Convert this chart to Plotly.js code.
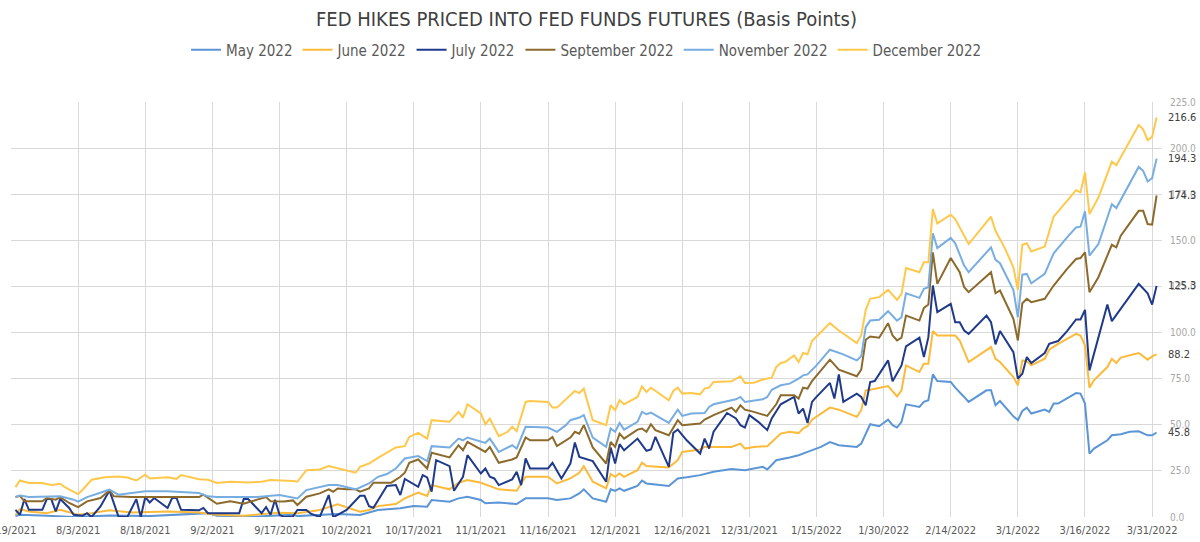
<!DOCTYPE html>
<html>
<head>
<meta charset="utf-8">
<script src="https://cdn.plot.ly/plotly-3.0.1.min.js"></script>
<style>
  html, body { margin: 0; padding: 0; background: #ffffff; }
  #chart { width: 1200px; height: 542px; }
</style>
</head>
<body>
<div id="chart"></div>
<script>
// Hikes priced into fed funds futures, in basis points, by contract month.

const may2022Dates = ['2021-07-20','2021-07-21','2021-07-27','2021-08-02','2021-08-10','2021-08-19','2021-09-01','2021-09-03','2021-09-12','2021-09-20','2021-09-21','2021-09-30','2021-10-05','2021-10-09','2021-10-14','2021-10-17','2021-10-20','2021-10-21','2021-10-25','2021-10-27','2021-10-29','2021-11-01','2021-11-02','2021-11-05','2021-11-09','2021-11-11','2021-11-16','2021-11-18','2021-11-21','2021-11-23','2021-11-24','2021-11-26','2021-11-29','2021-11-30','2021-12-01','2021-12-02','2021-12-03','2021-12-06','2021-12-07','2021-12-08','2021-12-13','2021-12-15','2021-12-17','2021-12-20','2021-12-23','2021-12-27','2021-12-30','2022-01-03','2022-01-04','2022-01-06','2022-01-09','2022-01-11','2022-01-13','2022-01-16','2022-01-18','2022-01-20','2022-01-24','2022-01-25','2022-01-27','2022-01-29','2022-01-31','2022-02-01','2022-02-02','2022-02-03','2022-02-04','2022-02-07','2022-02-08','2022-02-09','2022-02-10','2022-02-11','2022-02-14','2022-02-15','2022-02-17','2022-02-18','2022-02-22','2022-02-23','2022-02-24','2022-02-25','2022-02-28','2022-03-01','2022-03-02','2022-03-03','2022-03-04','2022-03-07','2022-03-08','2022-03-09','2022-03-10','2022-03-12','2022-03-14','2022-03-15','2022-03-16','2022-03-17','2022-03-18','2022-03-21','2022-03-22','2022-03-24','2022-03-26','2022-03-28','2022-03-30','2022-03-31','2022-04-01'];
const may2022Values = [0.5,1.2,0.7,0.0,0.8,0.5,2.1,0.7,0.3,1.2,0.5,1.6,1.1,3.8,4.7,5.9,5.6,9.2,8.3,10.1,11.0,9.2,7.4,7.8,7.0,10.1,10.1,9.2,10.1,12.8,15.0,10.1,8.3,15.0,14.2,15.5,14.2,16.8,19.7,18.2,16.8,20.9,21.5,22.7,24.5,26.0,25.4,27.2,25.8,30.8,32.3,33.5,35.3,38.0,40.6,38.9,38.0,39.8,50.3,49.2,52.8,49.8,48.5,51.6,61.1,59.7,62.4,63.3,77.3,73.7,73.2,70.1,65.1,62.4,68.7,68.7,60.6,62.9,54.6,52.5,57.5,59.3,56.1,58.2,57.0,61.5,61.5,64.2,67.2,66.9,61.5,34.4,37.1,41.6,44.3,44.9,46.2,46.5,44.3,44.3,45.8];

const june2022Dates = ['2021-07-20','2021-07-21','2021-07-23','2021-07-27','2021-07-30','2021-08-03','2021-08-06','2021-08-10','2021-08-15','2021-08-23','2021-08-30','2021-09-03','2021-09-09','2021-09-17','2021-09-21','2021-09-26','2021-09-30','2021-10-05','2021-10-07','2021-10-09','2021-10-13','2021-10-15','2021-10-18','2021-10-20','2021-10-21','2021-10-25','2021-10-27','2021-10-29','2021-11-01','2021-11-02','2021-11-05','2021-11-09','2021-11-11','2021-11-16','2021-11-18','2021-11-21','2021-11-23','2021-11-24','2021-11-26','2021-11-29','2021-11-30','2021-12-01','2021-12-02','2021-12-03','2021-12-06','2021-12-07','2021-12-08','2021-12-13','2021-12-15','2021-12-16','2021-12-20','2021-12-21','2021-12-27','2021-12-29','2021-12-30','2022-01-01','2022-01-04','2022-01-07','2022-01-09','2022-01-11','2022-01-12','2022-01-13','2022-01-14','2022-01-18','2022-01-20','2022-01-24','2022-01-25','2022-01-26','2022-01-27','2022-01-31','2022-02-02','2022-02-03','2022-02-04','2022-02-07','2022-02-08','2022-02-09','2022-02-10','2022-02-11','2022-02-15','2022-02-16','2022-02-17','2022-02-18','2022-02-23','2022-02-24','2022-02-25','2022-02-28','2022-03-01','2022-03-02','2022-03-03','2022-03-04','2022-03-07','2022-03-08','2022-03-10','2022-03-14','2022-03-15','2022-03-16','2022-03-17','2022-03-18','2022-03-21','2022-03-22','2022-03-23','2022-03-24','2022-03-28','2022-03-30','2022-03-31','2022-04-01'];
const june2022Values = [1.2,4.3,3.0,2.1,3.9,1.2,2.1,3.6,2.5,3.0,2.5,1.2,0.7,2.3,2.0,3.8,6.9,2.9,3.8,5.9,7.0,10.1,13.2,11.4,17.3,15.0,18.6,20.0,18.6,17.8,15.0,14.2,21.8,21.8,18.2,20.9,24.0,27.6,19.1,15.5,23.3,21.8,23.6,21.8,25.4,29.4,27.6,26.9,30.8,35.3,36.6,38.0,38.0,39.8,37.1,38.0,38.4,45.2,46.2,45.5,48.0,49.2,52.8,59.3,58.2,54.3,57.9,68.7,69.0,71.0,65.4,68.7,82.2,78.6,83.1,83.1,100.8,98.4,98.4,95.7,90.0,84.0,92.1,85.8,84.0,75.9,71.4,84.9,84.5,82.2,85.8,90.7,93.9,99.3,98.4,93.0,70.1,74.1,81.3,85.8,83.5,86.4,88.9,85.3,87.1,88.2];

const july2022Dates = ['2021-07-20','2021-07-21','2021-07-22','2021-07-23','2021-07-26','2021-07-27','2021-07-28','2021-07-29','2021-07-30','2021-08-01','2021-08-02','2021-08-04','2021-08-05','2021-08-06','2021-08-08','2021-08-10','2021-08-12','2021-08-14','2021-08-16','2021-08-17','2021-08-18','2021-08-19','2021-08-20','2021-08-23','2021-08-24','2021-08-25','2021-08-26','2021-08-30','2021-08-31','2021-09-01','2021-09-06','2021-09-08','2021-09-09','2021-09-10','2021-09-13','2021-09-14','2021-09-15','2021-09-16','2021-09-17','2021-09-18','2021-09-20','2021-09-21','2021-09-23','2021-09-24','2021-09-26','2021-09-28','2021-09-29','2021-09-30','2021-10-02','2021-10-05','2021-10-06','2021-10-07','2021-10-08','2021-10-09','2021-10-11','2021-10-13','2021-10-14','2021-10-15','2021-10-17','2021-10-18','2021-10-19','2021-10-20','2021-10-21','2021-10-22','2021-10-25','2021-10-26','2021-10-28','2021-10-29','2021-11-01','2021-11-02','2021-11-03','2021-11-04','2021-11-05','2021-11-08','2021-11-09','2021-11-10','2021-11-11','2021-11-12','2021-11-16','2021-11-17','2021-11-19','2021-11-21','2021-11-22','2021-11-23','2021-11-26','2021-11-29','2021-11-30','2021-12-01','2021-12-02','2021-12-03','2021-12-06','2021-12-08','2021-12-09','2021-12-10','2021-12-13','2021-12-14','2021-12-15','2021-12-17','2021-12-20','2021-12-21','2021-12-22','2021-12-23','2021-12-26','2021-12-28','2021-12-29','2021-12-30','2021-12-31','2022-01-02','2022-01-04','2022-01-05','2022-01-07','2022-01-09','2022-01-10','2022-01-11','2022-01-12','2022-01-13','2022-01-14','2022-01-15','2022-01-18','2022-01-19','2022-01-20','2022-01-21','2022-01-24','2022-01-25','2022-01-26','2022-01-27','2022-01-28','2022-01-31','2022-02-01','2022-02-03','2022-02-04','2022-02-07','2022-02-08','2022-02-09','2022-02-10','2022-02-11','2022-02-14','2022-02-15','2022-02-16','2022-02-17','2022-02-18','2022-02-22','2022-02-23','2022-02-24','2022-02-25','2022-02-28','2022-03-01','2022-03-02','2022-03-03','2022-03-04','2022-03-07','2022-03-08','2022-03-10','2022-03-12','2022-03-14','2022-03-15','2022-03-16','2022-03-17','2022-03-21','2022-03-22','2022-03-25','2022-03-28','2022-03-30','2022-03-31','2022-04-01'];
const july2022Values = [3.9,1.2,9.7,3.9,3.9,9.7,9.7,3.0,9.7,4.9,1.2,0.7,2.1,0.0,5.7,14.4,0.3,0.0,9.7,0.0,10.8,7.9,10.3,4.9,10.3,10.3,3.9,3.6,4.9,2.1,2.1,2.1,9.7,9.7,2.1,5.4,1.2,9.4,1.2,0.0,0.3,3.8,3.8,1.8,0.0,11.9,0.0,1.1,3.8,11.5,11.5,5.9,5.0,9.2,16.8,17.3,11.9,20.6,17.8,16.4,22.7,21.5,13.7,30.8,27.6,14.2,21.8,33.5,23.6,26.3,21.8,20.9,17.3,20.4,24.5,17.3,31.7,26.3,26.3,29.4,20.9,29.0,40.4,32.6,30.3,19.1,37.7,29.0,39.5,36.2,42.5,35.9,36.6,43.4,27.2,45.6,47.4,41.6,34.4,42.5,37.1,46.2,56.4,53.4,49.8,48.5,55.2,51.6,47.1,53.4,61.1,63.6,65.1,56.1,58.8,51.0,62.4,65.1,72.7,64.2,77.3,62.4,66.9,65.1,60.6,73.2,73.7,84.9,73.6,82.2,92.5,97.2,86.7,97.5,125.5,111.1,115.6,105.6,105.6,101.1,99.3,109.2,105.6,93.6,100.8,89.4,75.0,77.7,86.7,83.5,88.9,93.9,95.4,100.8,107.1,107.1,112.3,79.5,115.2,106.2,116.5,126.4,121.3,115.2,125.3];

const sep2022Dates = ['2021-07-20','2021-07-21','2021-07-22','2021-07-26','2021-07-27','2021-07-29','2021-07-30','2021-08-01','2021-08-03','2021-08-05','2021-08-08','2021-08-10','2021-08-11','2021-08-15','2021-08-23','2021-08-30','2021-08-31','2021-09-03','2021-09-06','2021-09-09','2021-09-12','2021-09-14','2021-09-15','2021-09-18','2021-09-20','2021-09-21','2021-09-23','2021-09-26','2021-09-28','2021-09-29','2021-09-30','2021-10-02','2021-10-04','2021-10-05','2021-10-07','2021-10-08','2021-10-12','2021-10-14','2021-10-15','2021-10-16','2021-10-18','2021-10-20','2021-10-21','2021-10-25','2021-10-27','2021-10-28','2021-10-29','2021-11-02','2021-11-03','2021-11-05','2021-11-08','2021-11-09','2021-11-11','2021-11-12','2021-11-16','2021-11-17','2021-11-18','2021-11-21','2021-11-22','2021-11-23','2021-11-24','2021-11-26','2021-11-29','2021-11-30','2021-12-01','2021-12-02','2021-12-03','2021-12-06','2021-12-07','2021-12-08','2021-12-09','2021-12-10','2021-12-13','2021-12-15','2021-12-16','2021-12-20','2021-12-21','2021-12-23','2021-12-27','2021-12-28','2021-12-29','2021-12-30','2022-01-01','2022-01-04','2022-01-06','2022-01-07','2022-01-10','2022-01-11','2022-01-12','2022-01-13','2022-01-14','2022-01-18','2022-01-20','2022-01-24','2022-01-25','2022-01-26','2022-01-27','2022-01-29','2022-01-31','2022-02-01','2022-02-02','2022-02-03','2022-02-04','2022-02-07','2022-02-08','2022-02-09','2022-02-10','2022-02-11','2022-02-14','2022-02-16','2022-02-17','2022-02-18','2022-02-23','2022-02-24','2022-02-25','2022-02-28','2022-03-01','2022-03-02','2022-03-03','2022-03-04','2022-03-07','2022-03-09','2022-03-12','2022-03-14','2022-03-15','2022-03-16','2022-03-17','2022-03-19','2022-03-22','2022-03-23','2022-03-24','2022-03-28','2022-03-29','2022-03-30','2022-03-31','2022-04-01'];
const sep2022Values = [10.8,11.5,8.5,8.5,10.3,9.4,10.8,7.6,5.4,8.5,10.3,14.4,11.2,10.8,10.8,10.8,12.1,7.2,8.5,7.2,9.4,10.8,8.5,8.4,9.0,6.5,11.0,12.8,15.0,13.7,15.5,15.0,15.0,13.7,15.5,18.6,18.6,21.8,24.0,29.4,31.2,26.3,34.8,32.3,38.9,36.2,40.7,35.3,38.0,29.4,31.2,32.3,43.1,41.6,41.6,43.4,38.4,43.1,46.2,45.2,49.8,37.7,29.0,40.7,38.0,45.2,42.5,47.4,48.0,46.2,50.3,47.1,44.3,52.5,49.8,50.7,52.8,55.2,59.3,57.0,60.6,58.2,57.0,54.8,61.1,66.0,66.0,64.2,70.1,69.6,73.7,85.3,79.9,76.3,79.9,96.1,97.9,97.2,105.1,98.4,95.7,97.2,109.2,106.5,113.4,115.2,143.5,126.4,140.4,132.7,124.6,121.9,132.7,121.3,122.8,107.4,95.7,115.9,118.3,116.5,118.3,125.5,134.5,139.9,140.4,143.5,121.9,130.0,147.6,146.2,152.5,166.0,166.0,158.8,158.5,174.3];

const nov2022Dates = ['2021-07-20','2021-07-21','2021-07-23','2021-07-27','2021-07-30','2021-08-02','2021-08-03','2021-08-05','2021-08-10','2021-08-12','2021-08-18','2021-08-23','2021-08-30','2021-09-01','2021-09-03','2021-09-12','2021-09-17','2021-09-21','2021-09-23','2021-09-28','2021-09-30','2021-10-04','2021-10-07','2021-10-09','2021-10-11','2021-10-13','2021-10-15','2021-10-18','2021-10-20','2021-10-21','2021-10-25','2021-10-27','2021-10-28','2021-10-29','2021-11-02','2021-11-03','2021-11-05','2021-11-08','2021-11-09','2021-11-11','2021-11-16','2021-11-18','2021-11-20','2021-11-21','2021-11-23','2021-11-24','2021-11-26','2021-11-29','2021-11-30','2021-12-01','2021-12-02','2021-12-03','2021-12-06','2021-12-07','2021-12-08','2021-12-09','2021-12-13','2021-12-15','2021-12-16','2021-12-18','2021-12-21','2021-12-22','2021-12-23','2021-12-28','2021-12-29','2021-12-30','2022-01-03','2022-01-04','2022-01-05','2022-01-07','2022-01-09','2022-01-11','2022-01-12','2022-01-13','2022-01-15','2022-01-18','2022-01-21','2022-01-24','2022-01-25','2022-01-26','2022-01-27','2022-01-29','2022-01-31','2022-02-02','2022-02-03','2022-02-04','2022-02-07','2022-02-08','2022-02-09','2022-02-10','2022-02-11','2022-02-14','2022-02-15','2022-02-17','2022-02-18','2022-02-23','2022-02-24','2022-02-25','2022-02-28','2022-03-01','2022-03-02','2022-03-03','2022-03-04','2022-03-07','2022-03-09','2022-03-12','2022-03-14','2022-03-15','2022-03-16','2022-03-17','2022-03-19','2022-03-22','2022-03-23','2022-03-28','2022-03-29','2022-03-30','2022-03-31','2022-04-01'];
const nov2022Values = [10.8,11.7,10.8,10.8,11.2,9.4,8.3,10.8,14.8,12.1,13.9,13.9,13.0,11.2,10.8,10.8,11.9,10.1,14.6,17.3,17.3,15.0,18.2,21.8,23.3,26.3,31.7,33.0,30.3,38.4,37.7,42.5,41.6,43.1,40.2,42.5,35.3,38.9,37.1,48.9,48.5,46.2,49.8,52.5,53.9,55.2,43.1,38.0,48.0,46.2,51.0,47.4,51.6,57.0,55.7,56.6,51.0,58.2,54.8,56.1,56.4,59.7,61.1,63.8,65.1,62.4,63.8,65.1,69.0,71.4,72.3,75.0,76.8,77.3,82.2,90.7,88.2,84.9,87.1,102.9,106.5,106.9,111.6,106.5,108.3,121.3,118.8,123.7,124.6,153.8,145.8,151.3,148.4,136.3,132.7,146.2,139.4,137.6,123.1,108.3,131.4,131.8,126.7,131.8,143.0,151.6,157.0,157.4,165.7,141.7,148.0,169.6,167.5,189.8,187.7,181.9,183.7,194.3];

const dec2022Dates = ['2021-07-20','2021-07-21','2021-07-23','2021-07-26','2021-07-28','2021-07-30','2021-07-31','2021-08-03','2021-08-04','2021-08-06','2021-08-09','2021-08-11','2021-08-12','2021-08-14','2021-08-16','2021-08-18','2021-08-19','2021-08-23','2021-08-25','2021-08-26','2021-08-30','2021-09-01','2021-09-03','2021-09-06','2021-09-10','2021-09-13','2021-09-15','2021-09-20','2021-09-21','2021-09-23','2021-09-26','2021-09-28','2021-10-02','2021-10-04','2021-10-05','2021-10-07','2021-10-09','2021-10-11','2021-10-13','2021-10-15','2021-10-16','2021-10-18','2021-10-20','2021-10-21','2021-10-24','2021-10-25','2021-10-27','2021-10-28','2021-10-29','2021-11-01','2021-11-02','2021-11-03','2021-11-05','2021-11-07','2021-11-08','2021-11-09','2021-11-11','2021-11-12','2021-11-16','2021-11-17','2021-11-18','2021-11-22','2021-11-23','2021-11-24','2021-11-26','2021-11-29','2021-11-30','2021-12-01','2021-12-02','2021-12-03','2021-12-06','2021-12-07','2021-12-08','2021-12-09','2021-12-13','2021-12-14','2021-12-15','2021-12-16','2021-12-18','2021-12-20','2021-12-21','2021-12-22','2021-12-23','2021-12-27','2021-12-29','2021-12-30','2022-01-01','2022-01-03','2022-01-05','2022-01-06','2022-01-07','2022-01-08','2022-01-10','2022-01-11','2022-01-12','2022-01-13','2022-01-14','2022-01-18','2022-01-20','2022-01-24','2022-01-25','2022-01-26','2022-01-27','2022-01-29','2022-01-31','2022-02-02','2022-02-03','2022-02-04','2022-02-07','2022-02-08','2022-02-09','2022-02-10','2022-02-11','2022-02-14','2022-02-15','2022-02-17','2022-02-18','2022-02-23','2022-02-24','2022-02-26','2022-02-28','2022-03-01','2022-03-02','2022-03-03','2022-03-04','2022-03-07','2022-03-09','2022-03-12','2022-03-14','2022-03-15','2022-03-16','2022-03-17','2022-03-19','2022-03-22','2022-03-23','2022-03-28','2022-03-29','2022-03-30','2022-03-31','2022-04-01'];
const dec2022Values = [16.2,19.8,18.5,18.4,17.3,18.0,16.2,12.4,14.8,20.2,21.6,21.6,22.0,21.4,19.8,22.9,20.9,21.6,20.7,22.7,20.5,20.2,18.4,19.1,18.7,19.1,20.0,19.5,19.1,25.4,25.8,27.6,25.4,24.0,27.2,29.0,32.1,34.8,37.7,38.4,43.4,45.6,42.5,52.5,52.1,51.6,57.0,53.9,61.1,56.1,50.3,53.4,43.8,46.2,48.9,46.5,62.4,62.9,62.4,59.3,59.3,68.3,67.2,69.6,52.5,49.8,60.6,57.9,63.3,61.1,65.1,70.8,67.8,70.1,63.3,68.3,70.1,66.9,67.2,66.5,69.6,70.1,73.2,73.6,76.3,72.7,72.8,74.5,75.5,81.3,83.5,84.0,87.6,84.0,88.9,88.2,95.4,105.1,101.1,94.3,98.4,112.3,118.3,119.2,123.1,117.7,121.0,135.0,132.7,138.1,138.1,166.9,159.2,163.9,161.5,152.5,148.0,162.8,155.2,146.2,135.4,123.1,147.6,148.4,144.0,146.6,162.8,171.4,177.2,176.0,186.8,164.2,173.2,192.7,190.7,212.5,210.2,204.3,206.1,216.6];

const seriesNames = ['May 2022', 'June 2022', 'July 2022', 'September 2022', 'November 2022', 'December 2022'];

const xTickDates = ['2021-07-19','2021-08-03','2021-08-18','2021-09-02','2021-09-17','2021-10-02','2021-10-17','2021-11-01','2021-11-16','2021-12-01','2021-12-16','2021-12-31','2022-01-15','2022-01-30','2022-02-14','2022-03-01','2022-03-16','2022-03-31'];
const xTickLabels = ['7/19/2021','8/3/2021','8/18/2021','9/2/2021','9/17/2021','10/2/2021','10/17/2021','11/1/2021','11/16/2021','12/1/2021','12/16/2021','12/31/2021','1/15/2022','1/30/2022','2/14/2022','3/1/2022','3/16/2022','3/31/2022'];

// Line colours, in the same order as seriesNames
const lineColors = ['#5B95D6', '#FBBA3A', '#1F3A8A', '#8C6A2C', '#77ADE0', '#FFC84A'];

const seriesData = [
  [may2022Dates, may2022Values],
  [june2022Dates, june2022Values],
  [july2022Dates, july2022Values],
  [sep2022Dates, sep2022Values],
  [nov2022Dates, nov2022Values],
  [dec2022Dates, dec2022Values]
];

const narrowFont = '"Liberation Sans Narrow", "DejaVu Sans Condensed", "Roboto Condensed", "Liberation Sans", sans-serif';

const traces = seriesData.map(([dates, values], i) => ({
  type: 'scatter',
  mode: 'lines',
  name: seriesNames[i],
  x: dates,
  y: values,
  line: { color: lineColors[i], width: 2 },
  hoverinfo: 'x+y+name'
}));

// Closing value of each contract, written just right of its last point
const endLabels = seriesData.map(([dates, values]) => ({
  x: dates[dates.length - 1],
  y: values[values.length - 1],
  xref: 'x',
  yref: 'y',
  text: values[values.length - 1].toFixed(1),
  showarrow: false,
  xanchor: 'left',
  yanchor: 'middle',
  xshift: 9,
  font: { family: narrowFont, size: 11, color: '#404040' }
}));

const layout = {
  width: 1200,
  height: 542,
  paper_bgcolor: '#ffffff',
  plot_bgcolor: '#ffffff',
  margin: { l: 11, r: 38, t: 102, b: 25 },
  font: { family: narrowFont, color: '#595959' },
  title: {
    text: 'FED HIKES PRICED INTO FED FUNDS FUTURES (Basis Points)',
    x: 0.5,
    xanchor: 'center',
    xref: 'paper',
    y: 1 - 19 / 542,
    yref: 'container',
    yanchor: 'middle',
    font: { family: narrowFont, size: 20, color: '#404040' }
  },
  showlegend: true,
  legend: {
    orientation: 'h',
    x: 0.5,
    xanchor: 'center',
    xref: 'paper',
    y: 1 - 50 / 542,
    yref: 'container',
    yanchor: 'middle',
    font: { family: narrowFont, size: 15, color: '#595959' },
    itemwidth: 30,
    tracegroupgap: 0
  },
  xaxis: {
    type: 'date',
    range: ['2021-07-19', '2022-04-02 05:00'],
    tickmode: 'array',
    tickvals: xTickDates,
    ticktext: xTickLabels,
    ticklabeloverflow: 'allow',
    ticklabelstandoff: 5,
    showgrid: true,
    gridcolor: '#D9D9D9',
    gridwidth: 1,
    zeroline: false,
    showline: false,
    ticks: '',
    tickfont: { family: narrowFont, size: 11, color: '#595959' },
    fixedrange: true
  },
  yaxis: {
    side: 'right',
    range: [0, 225],
    dtick: 25,
    tick0: 0,
    tickformat: '.1f',
    ticklabelstandoff: 7,
    showgrid: true,
    gridcolor: '#D9D9D9',
    gridwidth: 1,
    zeroline: false,
    showline: false,
    ticks: '',
    tickfont: { family: narrowFont, size: 10, color: '#A6A6A6' },
    fixedrange: true
  },
  annotations: endLabels
};

Plotly.newPlot('chart', traces, layout, { displayModeBar: false, staticPlot: true });
</script>
</body>
</html>
